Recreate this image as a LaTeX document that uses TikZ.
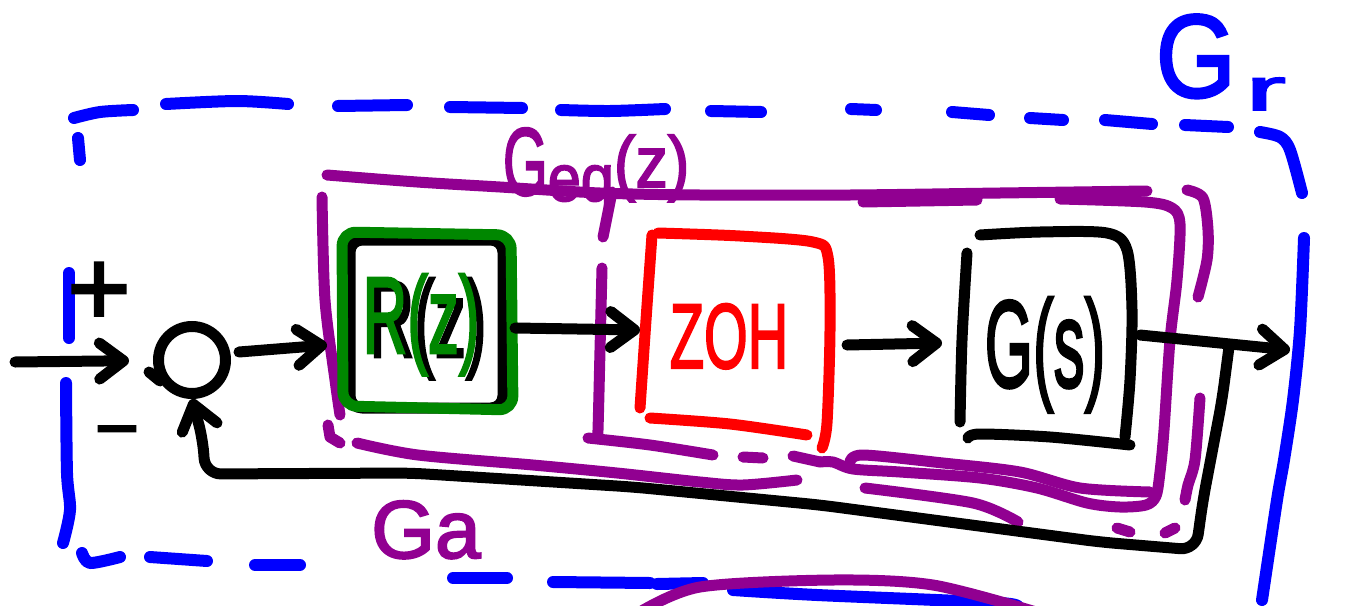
\documentclass[tikz,border=0pt]{standalone}
\usepackage{fontspec}
\usepackage{graphicx}
\setmainfont{Liberation Sans}[FakeBold=2.5]
\usetikzlibrary{arrows.meta}
\definecolor{penblue}{RGB}{0,0,255}
\definecolor{penpurple}{RGB}{145,0,145}
\definecolor{pengreen}{RGB}{0,135,0}
\definecolor{penred}{RGB}{255,0,0}
\newcommand\handsize[2]{{\fontsize{#1}{#1}\selectfont #2}}
\tikzset{
  ink/.style={line width=5.5pt, line cap=round, line join=round},
  inkblack/.style={ink, draw=black},
  inkblue/.style={ink, draw=penblue, line width=6pt},
  inkpurple/.style={ink, draw=penpurple},
  inkgreen/.style={ink, draw=pengreen},
  inkred/.style={ink, draw=penred},
  conn/.style={inkblack, -{Straight Barb[length=12pt,width=18pt,round]}},
  lbl/.style={inner sep=0pt, outer sep=0pt},
  blockarea/.style={inner sep=0pt, outer sep=0pt, draw=none},
}
\begin{document}
\begin{tikzpicture}[x=0.5pt, y=-0.5pt]
\useasboundingbox (0,0) rectangle (1348,605);

% ---------- outer dashed loop boundary Gr ----------
\draw[inkblue] plot[smooth] coordinates {(74,118) (100,112) (133,110)};
\draw[inkblue] (78,138) -- (80,160);
\draw[inkblue] (69,273) -- (69,338);
\draw[inkblue] plot[smooth] coordinates {(66,383) (67,473) (70,510) (63,543)};
\draw[inkblue] plot[smooth] coordinates {(82,553) (90,563) (120,557)};
\draw[inkblue] (150,557) -- (207,561);
\draw[inkblue] (255,565) -- (300,565);
\draw[inkblue] (453,578) -- (507,578);
\draw[inkblue] (553,582) -- (650,583);
\draw[inkblue] (657,584) -- (703,583);
\draw[inkblue] plot[smooth] coordinates {(733,590) (817,595) (1000,603) (1015,608)};
\draw[inkblue] plot[smooth] coordinates {(166,104) (237,101) (288,104)};
\draw[inkblue] (338,106) -- (407,105);
\draw[inkblue] (450,107) -- (522,108);
\draw[inkblue] plot[smooth] coordinates {(561,110) (610,111) (665,109)};
\draw[inkblue] (711,111) -- (761,112);
\draw[inkblue] (851,109) -- (876,110);
\draw[inkblue] (952,112) -- (989,115);
\draw[inkblue] (1030,118) -- (1063,120);
\draw[inkblue] (1105,120) -- (1152,124);
\draw[inkblue] (1185,125) -- (1228,127);
\draw[inkblue] plot[smooth] coordinates {(1260,132) (1280,137) (1290,150) (1302,193)};
\draw[inkblue] plot[smooth] coordinates {(1304,238) (1300,330) (1293,400) (1284,460) (1277,500) (1262,600)};

% ---------- purple groupings Ga and Geq(z) ----------
\draw[inkpurple] plot[smooth] coordinates {(327,175) (417,182) (500,187) (600,193) (700,195) (850,195) (1000,193) (1147,191)};
\draw[inkpurple] (863,202) -- (977,200);
\draw[inkpurple] plot[smooth] coordinates {(1060,199) (1145,202) (1172,208) (1180,224) (1177,280) (1170,340) (1164,430) (1160,472) (1156,496) (1146,505) (1120,507) (1087,503) (1037,488) (980,478) (900,472) (853,469) (833,462) (820,462)};
\draw[inkpurple] plot[smooth] coordinates {(850,462) (863,455) (943,463) (1020,472) (1080,488) (1150,492)};
\draw[inkpurple] plot[smooth] coordinates {(865,488) (973,503) (1018,522)};
\draw[inkpurple] (1117,528) -- (1130,532);
\draw[inkpurple] (1165,533) -- (1175,528);
\draw[inkpurple] plot[smooth] coordinates {(1187,190) (1203,198) (1208,230) (1207,260) (1198,297)};
\draw[inkpurple] plot[smooth] coordinates {(1200,398) (1195,460) (1188,485) (1185,500)};
\draw[inkpurple] plot[smooth] coordinates {(322,197) (325,300) (335,380) (340,415)};
\draw[inkpurple] (328,425) -- (330,437) -- (340,443);
\draw[inkpurple] plot[smooth] coordinates {(357,443) (418,455) (533,465) (617,473) (700,482) (743,485) (797,480)};
\draw[inkpurple] (612,192) -- (603,237);
\draw[inkpurple] plot[smooth] coordinates {(602,268) (600,350) (598,430) (597,438)};
\draw[inkpurple] plot[smooth] coordinates {(588,438) (650,445) (713,455)};
\draw[inkpurple] (743,457) -- (763,458);
\draw[inkpurple] (793,456) -- (820,462);
\draw[inkpurple] plot[smooth] coordinates {(640,612) (700,587) (833,580) (933,585) (1036,612)};

% ---------- block outlines ----------
\node[blockarea, minimum width=85pt, minimum height=90pt] (rzbox) at (426,322) {};
\node[blockarea, minimum width=94pt, minimum height=107pt] (zohbox) at (734,340) {};
\node[blockarea, minimum width=86pt, minimum height=106pt] (gbox) at (1046,339) {};

\draw[inkblack, rounded corners=6pt] (350,240) -- (503,240) -- (503,408) -- (350,408) -- cycle;
\draw[inkgreen, rounded corners=7pt] (343,406) -- (342,232) -- (511,235) -- (513,410) -- cycle;

\draw[inkred] plot[smooth] coordinates {(652,235) (646,320) (640,408)};
\draw[inkred] plot[smooth] coordinates {(658,233) (740,236) (813,242) (828,257) (830,330) (827,423) (822,448)};
\draw[inkred] plot[smooth] coordinates {(650,418) (730,424) (807,435)};

\draw[inkblack] plot[smooth] coordinates {(967,253) (962,340) (960,422)};
\draw[inkblack] plot[smooth] coordinates {(980,235) (1040,232) (1107,233) (1127,250) (1132,310) (1130,380) (1125,437)};
\draw[inkblack] plot[smooth] coordinates {(968,438) (980,434) (1050,437) (1130,445)};

% ---------- block labels (the black R(z) lies under the green one as a shadow) ----------
\node[lbl, anchor=base, text=black] at (428,357) {\handsize{50}{\scalebox{0.62}[1.09]{R(z)}}};
\node[lbl, anchor=base, text=pengreen] (rzlabel) at (421,353) {\handsize{50}{\scalebox{0.62}[1.09]{R(z)}}};
\node[lbl, anchor=base, text=penred] (zohlabel) at (729,368) {\handsize{46}{\scalebox{0.61}[1]{ZOH}}};
\node[lbl, anchor=base, text=black] (glabel) at (1045,387) {\handsize{62}{\scalebox{0.5}[1]{G(s)}}};

% ---------- group labels ----------
\node[lbl, anchor=base west, text=penblue] (grlabel) at (1156,97)
  {\handsize{59}{\scalebox{0.87}[1]{G}}\hspace{5pt}\raisebox{-6.5pt}{\handsize{30}{\scalebox{2}[1]{r}}}};
\node[lbl, anchor=base west, text=penpurple] (geqlabel) at (503,195)
  {\handsize{48}{\scalebox{0.6}[1]{G}}\raisebox{-3pt}{\handsize{33}{\scalebox{0.9}[1]{eq}}}\raisebox{4pt}{\handsize{36}{\scalebox{0.9}[1]{(z)}}}};
\node[lbl, anchor=base, text=penpurple] (galabel) at (426,558) {\handsize{41}{Ga}};

% ---------- summing junction and signs ----------
\node[draw, circle, line width=5.5pt, minimum size=33.5pt, inner sep=0pt] (sum) at (192,360) {};
\draw[inkblack] (149,372) -- (160,381);
\node[lbl, anchor=base] (plus) at (99,325) {\handsize{54}{+}};
\node[lbl, anchor=base] (minus) at (117,454) {\handsize{38}{−}};

% ---------- signal connections ----------
\coordinate (in) at (15,362);
\coordinate (out) at (1290,350);
\coordinate (branch) at (1229,347);

\draw[conn, shorten >=12pt] (in) -- (sum);
\draw[conn] ([xshift=4pt,yshift=4pt]sum.east) -- ([xshift=-7pt,yshift=-11.5pt]rzbox.west);
\draw[conn] ([xshift=2pt,yshift=-3pt]rzbox.east) -- ([yshift=5pt]zohbox.west);
\draw[conn] ([xshift=9.5pt,yshift=-2.5pt]zohbox.east) -- ([xshift=-9pt,yshift=-2pt]gbox.west);
\draw[conn] ([xshift=4pt,yshift=2pt]gbox.east) -- (out);
\draw[conn, rounded corners=8pt] (branch) -- (1222,400) -- (1203,500) -- (1196,550) -- (1100,542)
  -- (820,505) -- (633,487) -- (410,473) -- (205,474) -- (203,440) -- (sum.south);
\end{tikzpicture}
\end{document}
